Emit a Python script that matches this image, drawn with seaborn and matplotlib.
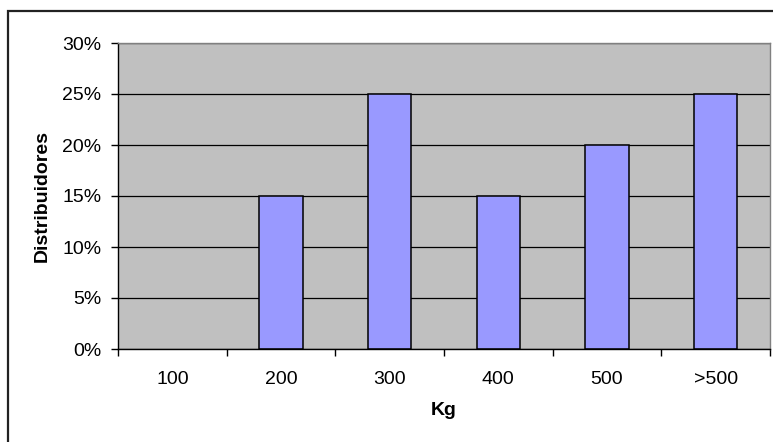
import matplotlib
matplotlib.use("Agg")
import matplotlib.pyplot as plt
import matplotlib.patches as mpatches
from matplotlib.ticker import FixedLocator, PercentFormatter
import seaborn as sns
import pandas as pd

# Share of distributors by purchase weight class
categories = ["100", "200", "300", "400", "500", ">500"]
shares = [0.00, 0.15, 0.25, 0.15, 0.20, 0.25]
y_ticks = [0.00, 0.05, 0.10, 0.15, 0.20, 0.25, 0.30]

df = pd.DataFrame({"Kg": categories, "Distribuidores": shares})

sns.set_style("white", {"xtick.bottom": True, "ytick.left": True,
                        "text.color": "black", "axes.labelcolor": "black",
                        "xtick.color": "black", "ytick.color": "black"})
plt.rcParams["font.family"] = ["Liberation Sans", "DejaVu Sans"]

fig = plt.figure(figsize=(7.73, 4.42), dpi=100)
ax = fig.add_axes([118 / 773, 1 - 349 / 442, (770 - 118) / 773, (349 - 43) / 442])

ax.set_facecolor("#C0C0C0")
ax.set_axisbelow(True)
ax.yaxis.grid(True, color="black", linewidth=0.9)
ax.xaxis.grid(False)

sns.barplot(data=df, x="Kg", y="Distribuidores", order=categories,
            color="#9999FF", saturation=1, width=0.4,
            edgecolor="black", linewidth=1.1, ax=ax)

# an empty class leaves no outline on the baseline
for bar in ax.patches:
    if bar.get_height() == 0:
        bar.set_linewidth(0)

ax.set_ylim(0, 0.30)
ax.set_xlim(-0.5, len(categories) - 0.5)
ax.set_yticks(y_ticks)
ax.yaxis.set_major_formatter(PercentFormatter(1.0, decimals=0))

# category labels centred, tick marks on the category boundaries
ax.tick_params(axis="x", which="major", bottom=True, length=0, pad=16,
               labelsize=14, labelcolor="black")
ax.xaxis.set_minor_locator(FixedLocator([i - 0.5 for i in range(len(categories) + 1)]))
ax.tick_params(axis="x", which="minor", bottom=True, length=5, width=1,
               color="black", direction="out")
ax.tick_params(axis="y", left=True, length=5, width=1, color="black",
               direction="out", pad=7, labelsize=14, labelcolor="black")

ax.set_xlabel("Kg", fontsize=14, fontweight="bold", labelpad=10, color="black")
ax.set_ylabel("Distribuidores", fontsize=14, fontweight="bold", labelpad=8, color="black")

for side in ("left", "bottom"):
    ax.spines[side].set_color("black")
    ax.spines[side].set_linewidth(1.0)
for side in ("top", "right"):
    ax.spines[side].set_visible(True)
    ax.spines[side].set_color("#808080")
    ax.spines[side].set_linewidth(1.0)

# chart frame
frame = mpatches.Rectangle((8 / 773, -0.05), 1.1, 0.05 + 1 - 11 / 442,
                           transform=fig.transFigure, fill=False,
                           edgecolor="#222222", linewidth=1.6)
fig.patches.append(frame)

fig.savefig("out.png", dpi=100)
